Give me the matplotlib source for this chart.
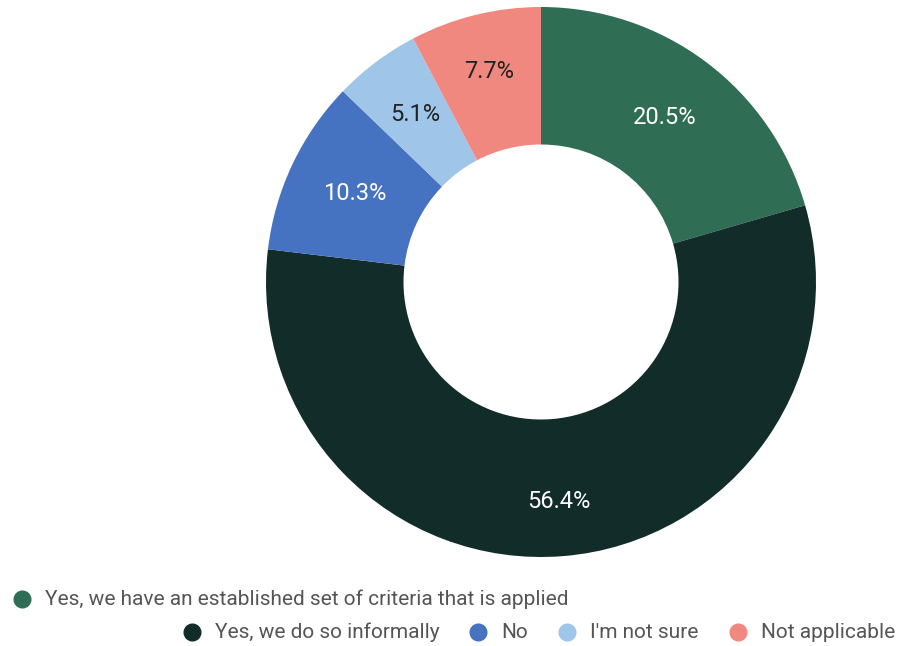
import numpy as np
import matplotlib.pyplot as plt
from matplotlib.lines import Line2D

labels = ['Yes, we have an established set of criteria that is applied',
          'Yes, we do so informally', 'No', "I'm not sure", 'Not applicable']
values = [20.5, 56.4, 10.3, 5.1, 7.7]
colors = ['#2f6e55', '#122c2a', '#4672c2', '#9fc5e8', '#f08880']
text_colors = ['white', 'white', 'white', '#222222', '#222222']
label_r = [0.75, 0.80, 0.75, 0.76, 0.79]

plt.rcParams['font.family'] = ['Roboto', 'DejaVu Sans']

W, H = 901, 646
fig = plt.figure(figsize=(W / 100, H / 100), dpi=100)
cx, cy, r = 541, 282, 275
ax = fig.add_axes([(cx - r) / W, (H - cy - r) / H, 2 * r / W, 2 * r / H])

wedges, texts = ax.pie(values, colors=colors, startangle=90, counterclock=False,
                       radius=1, wedgeprops=dict(width=0.5, edgecolor='none'))
for w, v, c, rr in zip(wedges, values, text_colors, label_r):
    a = np.deg2rad((w.theta1 + w.theta2) / 2)
    ax.text(rr * np.cos(a), rr * np.sin(a), f'{v:.1f}%', color=c,
            fontsize=17, ha='center', va='center')
ax.set_xlim(-1, 1)
ax.set_ylim(-1, 1)
ax.set_aspect('equal')
ax.axis('off')

# legend, laid out by hand like the original
legend_pos = [(22, 599), (192, 632), (478, 632), (567, 632), (738, 632)]
for (x, y), lab, c in zip(legend_pos, labels, colors):
    fig.add_artist(Line2D([x / W], [1 - y / H], marker='o', markersize=12,
                          color=c, linestyle='none', transform=fig.transFigure))
    fig.text((x + 23) / W, 1 - y / H, lab, fontsize=15, color='#555555',
             va='center', ha='left')

fig.savefig('out.png', dpi=100)
